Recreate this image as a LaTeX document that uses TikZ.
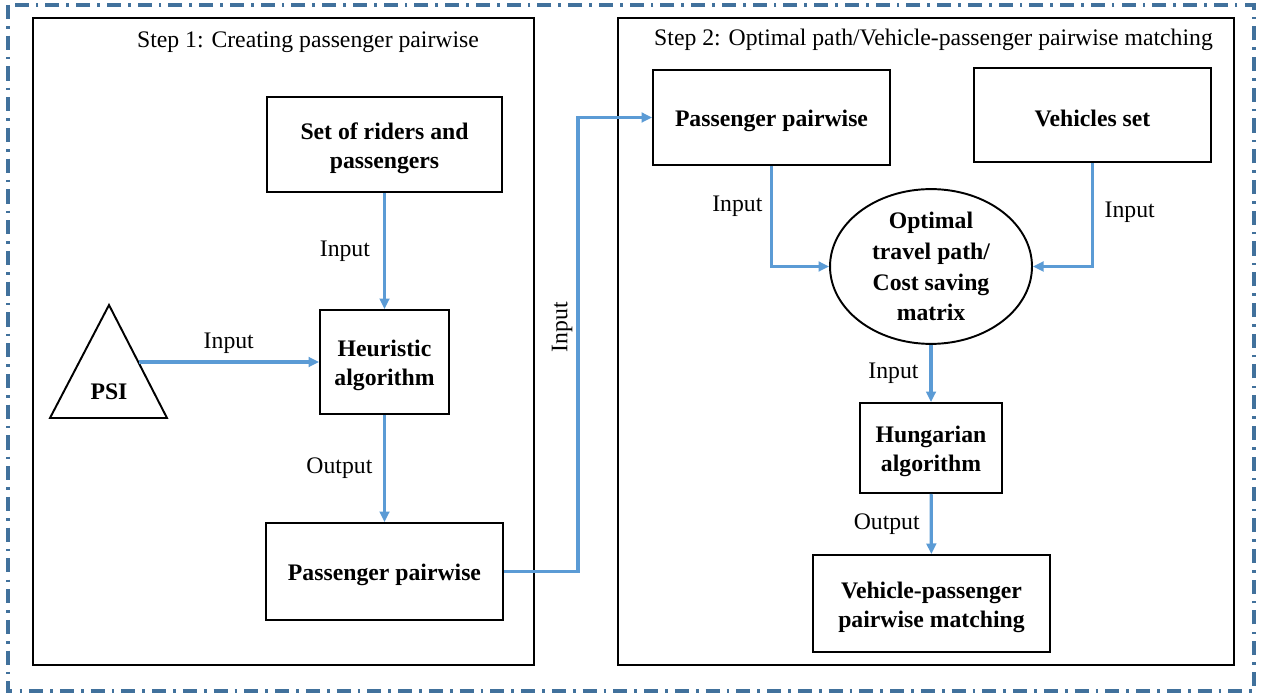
\documentclass[tikz,border=0pt]{standalone}
\usepackage{fontspec}
\setmainfont{Liberation Serif}
\usetikzlibrary{arrows.meta,shapes.geometric}
\definecolor{linkblue}{RGB}{91,155,213}
\definecolor{frameblue}{RGB}{65,113,156}
\newcommand{\topstrut}{\rule{0pt}{13.5pt}}

\begin{document}
\begin{tikzpicture}[x=0.02cm,y=-0.02cm,
    font=\fontsize{13.5}{17}\selectfont,
    box/.style={draw,line width=1.1pt,align=center,inner sep=2pt,
      font=\fontsize{13.5}{16.5}\selectfont\bfseries},
    oval/.style={draw,ellipse,line width=1.1pt,align=center,inner sep=0pt,
      font=\fontsize{13.5}{17.6}\selectfont\bfseries},
    link/.style={draw=linkblue,line width=1.8pt,-{Triangle[length=6pt,width=5.5pt]}},
    lbl/.style={inner sep=0pt}]
  \useasboundingbox (0,0) rectangle (1266,695);
  % outer frame and the two steps
  \draw[frameblue,line width=2.2pt,dash pattern=on 8pt off 4pt on 1.5pt off 4pt]
    (8,5) rectangle (1254,691);
  \draw[line width=1.1pt] (33,18) rectangle (534,665);
  \draw[line width=1.1pt] (618,18) rectangle (1234,665);
  \node (title1) at (308,42) {Step 1: Creating passenger pairwise};
  \node (title2) at (933.5,40) {Step 2: Optimal path/Vehicle-passenger pairwise matching};

  % step 1
  \node[box,minimum width=4.7cm,minimum height=1.9cm] (riders) at (384.5,144.5)
    {\topstrut Set of riders and\\passengers};
  \node[box,minimum width=2.58cm,minimum height=2.08cm] (heur) at (384.5,362)
    {\topstrut Heuristic\\algorithm};
  \node[box,minimum width=4.74cm,minimum height=1.94cm] (ppL) at (384.5,571.5)
    {\topstrut Passenger pairwise};
  \draw[line width=1.1pt] (109,305) -- (167,418) -- (50,418) -- cycle;
  \node[font=\fontsize{13.5}{17}\selectfont\bfseries] (psi) at (109,392) {PSI};
  \coordinate (psiR) at (138.5,362);

  % step 2
  \node[box,minimum width=4.74cm,minimum height=1.9cm] (ppR) at (771.5,117.5)
    {\topstrut Passenger pairwise};
  \node[box,minimum width=4.74cm,minimum height=1.88cm] (veh) at (1092.5,115)
    {\topstrut Vehicles set};
  \node[oval,minimum width=4.04cm,minimum height=3cm] (opt) at (931,266.5)
    {Optimal\\travel path/\\Cost saving\\matrix};
  \node[box,minimum width=2.84cm,minimum height=1.8cm] (hung) at (931,448)
    {\topstrut Hungarian\\algorithm};
  \node[box,minimum width=4.74cm,minimum height=1.94cm] (vpm) at (931.5,603.5)
    {\topstrut Vehicle-passenger\\pairwise matching};

  % connectors
  \draw[link] (riders) -- node[lbl,left=7.4pt] {Input} (heur);
  \draw[link] (psiR) -- node[lbl,above=4pt] {Input} (heur);
  \draw[link] (heur) -- node[lbl,left=6pt] {Output} (ppL);
  \coordinate (jog) at (578,571.5);
  \draw[link] (ppL.east) -- (jog) |- (ppR.west);
  \node[lbl,rotate=90] (inp) at (562,327) {Input};
  \draw[link] (ppR.south) |- node[pos=0.2,lbl,left=4.3pt] {Input} (opt.west);
  \draw[link] (veh.south) |- node[pos=0.24,lbl,right=6pt] {Input} (opt.east);
  \draw[link] (opt) -- node[lbl,left=6.2pt] {Input} (hung);
  \draw[link] (hung) -- node[lbl,left=5.7pt] {Output} (vpm);
\end{tikzpicture}
\end{document}
